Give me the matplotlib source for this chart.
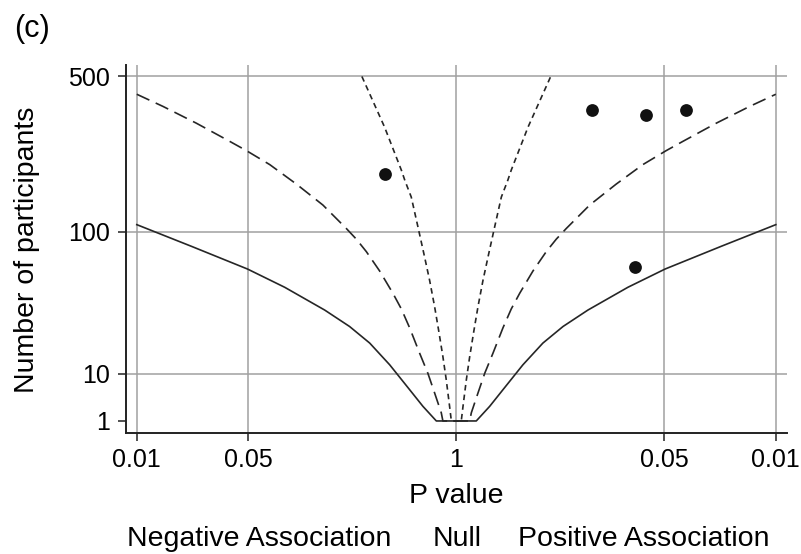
import numpy as np
import matplotlib
matplotlib.use("Agg")
import matplotlib.pyplot as plt

plt.rcParams['font.family'] = ['Liberation Sans', 'DejaVu Sans']
plt.rcParams['lines.scale_dashes'] = False

# contour lines, left branch only (negative association side),
# x given as signed log10(P); right branch is the mirror image
solid_x = [-2.0, -1.658, -1.307, -1.074, -0.824, -0.668, -0.542, -0.417,
           -0.292, -0.209, -0.125]
solid_n = [109, 83.5, 62, 48, 34, 25.9, 19.2, 12.3, 6.5, 3.6, 1]

long_x = [-2.0, -1.835, -1.627, -1.418, -1.314, -1.168, -1.001, -0.835,
          -0.688, -0.626, -0.563, -0.480, -0.397, -0.344, -0.292, -0.230,
          -0.178, -0.136, -0.094, -0.084]
long_n = [425, 379, 323, 270, 246, 213, 173, 137, 104, 91.4, 78, 60.4, 44,
          34.6, 25.3, 15.8, 10.1, 5.9, 2.6, 1]

short_x = [-0.591, -0.449, -0.344, -0.322, -0.282, -0.240, -0.203, -0.167,
           -0.136, -0.111, -0.084, -0.063, -0.042, -0.031]
short_n = [500, 311, 201, 180, 150, 106, 76, 53, 36, 24.4, 14.7, 8.6, 3.6, 1]

# studies
study_p = [0.36, 0.142, 0.0647, 0.0364, 0.0764]
study_dir = [-1, 1, 1, 1, 1]
study_n = [193, 367, 349, 367, 64]

xtick_p = [0.01, 0.05, 1, 0.05, 0.01]
xtick_dir = [-1, -1, 0, 1, 1]
ytick_n = [1, 10, 100, 500]

line_color = '#262626'
grid_color = '#a0a0a0'


def _fwd(n):
    l = np.log10(np.clip(n, 1e-6, None))
    return np.sign(l) * l ** 2


def _inv(t):
    t = np.asarray(t, dtype=float)
    return 10 ** (np.sign(t) * np.sqrt(np.abs(t)))


def _mirror(xs, ns):
    xs = np.asarray(xs, dtype=float)
    ns = np.asarray(ns, dtype=float)
    return (np.concatenate([xs, -xs[::-1]]),
            np.concatenate([ns, ns[::-1]]))


fig = plt.figure(figsize=(8.01, 5.54), dpi=100)
ax = fig.add_axes([125.6 / 801, 1 - 433 / 554, (787 - 125.6) / 801, (433 - 65) / 554])

ax.set_yscale('function', functions=(_fwd, _inv))
ax.set_xlim(-2.07, 2.07)
ax.set_ylim(0.313, 554)

x, n = _mirror(solid_x, solid_n)
ax.plot(x, n, color=line_color, lw=1.2, solid_joinstyle='round')
x, n = _mirror(long_x, long_n)
ax.plot(x, n, color=line_color, lw=1.2, dashes=(10, 5))
x, n = _mirror(short_x, short_n)
ax.plot(x, n, color=line_color, lw=1.2, dashes=(4, 3))

sx = np.array(study_dir) * -np.log10(study_p)
ax.plot(sx, study_n, 'o', color='#111111', ms=9.2, mec='none')

xt = np.array(xtick_dir) * -np.log10(xtick_p)
ax.set_xticks(xt)
ax.set_xticklabels([('%g' % p) for p in xtick_p])
ax.set_yticks(ytick_n)
ax.set_yticklabels([str(v) for v in ytick_n])
ax.yaxis.set_minor_locator(matplotlib.ticker.NullLocator())

ax.grid(True, color=grid_color, lw=1.1)
ax.yaxis.get_gridlines()[0].set_visible(False)
ax.set_axisbelow(True)

for side in ['top', 'right']:
    ax.spines[side].set_visible(False)
for side in ['left', 'bottom']:
    ax.spines[side].set_linewidth(1.4)
    ax.spines[side].set_color('#222222')
ax.tick_params(direction='out', length=6, width=1.1, labelsize=18, pad=5,
               color='#222222')

fig.text(27 / 801, 1 - 250 / 554, 'Number of participants', rotation=90,
         ha='center', va='center', fontsize=20.5)
fig.text(456 / 801, 1 - 503 / 554, 'P value', ha='center', va='baseline',
         fontsize=20.5)
fig.text(259 / 801, 1 - 546 / 554, 'Negative Association', ha='center',
         va='baseline', fontsize=20.5)
fig.text(457 / 801, 1 - 546 / 554, 'Null', ha='center', va='baseline',
         fontsize=20.5)
fig.text(644 / 801, 1 - 546 / 554, 'Positive Association', ha='center',
         va='baseline', fontsize=20.5)
fig.text(14 / 801, 1 - 29 / 554, '(c)', ha='left', va='center', fontsize=22)

fig.savefig('out.png', dpi=100)
